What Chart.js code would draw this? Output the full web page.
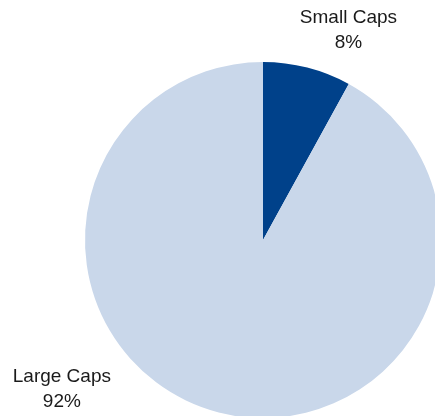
<!DOCTYPE html>
<html>
<head>
<meta charset="utf-8">
<script src="https://cdn.jsdelivr.net/npm/chart.js@4"></script>
<style>
  html, body { margin: 0; padding: 0; background: #fff; }
  #frame { position: relative; width: 435px; height: 416px; overflow: hidden; background: #fff; }
  #c { position: absolute; left: 0; top: 0; }
</style>
</head>
<body>
<div id="frame"><canvas id="c" width="526" height="480"></canvas></div>
<script>
const categories = ["Small Caps", "Large Caps"];
const shares = [8, 92];
const valueLabels = ["8%", "92%"];
const sliceColors = ["#00418A", "#C9D7EA"];

// label anchors relative to pie centre, in units of radius
const labelAnchors = [
  { dx: 0.48, dy: -1.18 },
  { dx: -1.13, dy: 0.84 }
];

const labelPlugin = {
  id: 'pieLabels',
  afterDraw(chart) {
    const meta = chart.getDatasetMeta(0);
    const arc = meta.data[0];
    const cx = arc.x, cy = arc.y, r = arc.outerRadius;
    const ctx = chart.ctx;
    ctx.save();
    ctx.font = '19px "Liberation Sans", Arial, sans-serif';
    ctx.fillStyle = '#1a1a1a';
    ctx.textAlign = 'center';
    ctx.textBaseline = 'middle';
    categories.forEach((name, i) => {
      const a = labelAnchors[i];
      const x = cx + a.dx * r, y = cy + a.dy * r;
      ctx.fillText(name, x, y - 12.5);
      ctx.fillText(valueLabels[i], x, y + 12.5);
    });
    ctx.restore();
  }
};

new Chart(document.getElementById('c'), {
  type: 'pie',
  data: {
    labels: categories,
    datasets: [{
      data: shares,
      backgroundColor: sliceColors,
      borderWidth: 0
    }]
  },
  options: {
    responsive: false,
    animation: false,
    layout: { padding: { left: 85, right: 85, top: 62, bottom: 62 } },
    plugins: {
      legend: { display: false },
      tooltip: { enabled: false }
    }
  },
  plugins: [labelPlugin]
});
</script>
</body>
</html>
